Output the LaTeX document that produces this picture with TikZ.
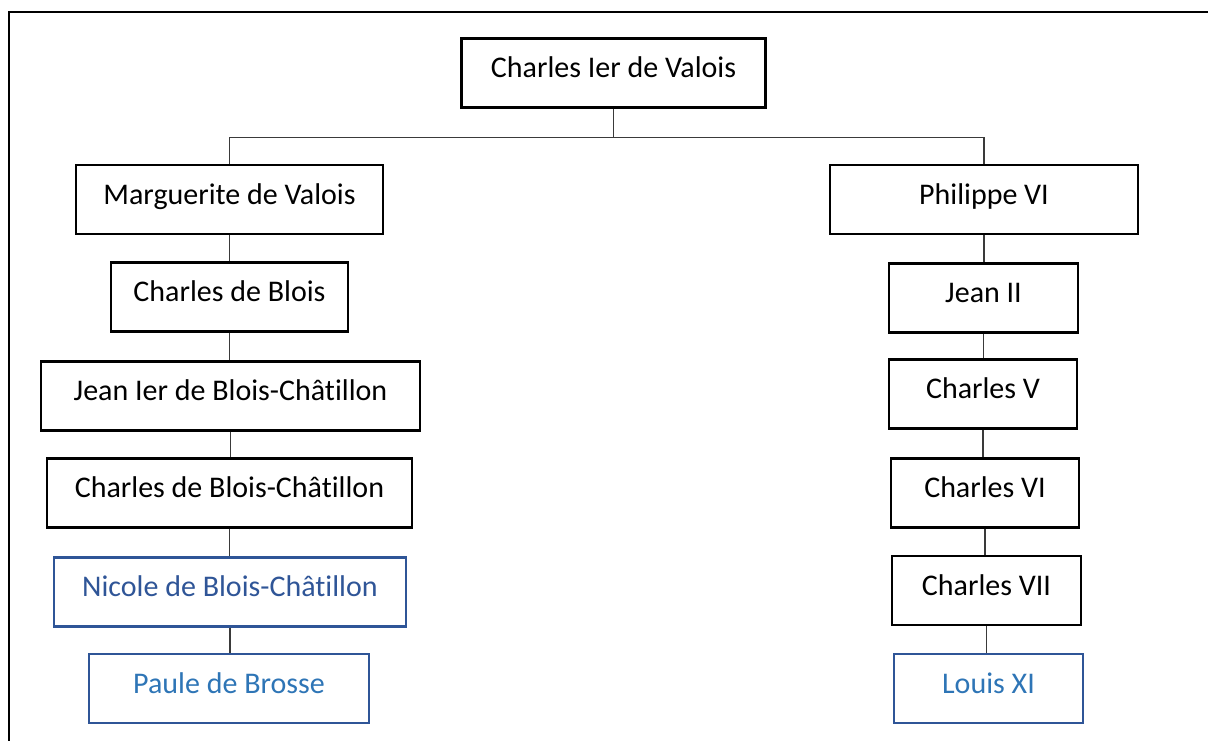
\documentclass[tikz,border=0pt]{standalone}
\usepackage{fontspec}
\setmainfont[RawFeature=-liga]{Carlito}
\usetikzlibrary{positioning}
\definecolor{blaud}{HTML}{2F5597}
\definecolor{blauh}{HTML}{2E75B6}
\definecolor{linie}{HTML}{3A3A3A}
\tikzset{
  person/.style={draw=black,line width=1.8pt,minimum height=69*0.75pt,inner sep=0pt,
    text height=14pt,text depth=7pt,font=\fontsize{22.5}{26}\selectfont},
  personb/.style={person,draw=blaud,line width=1.6pt},
  verb/.style={linie,line width=0.8pt},
  rahmen/.style={black,line width=1.6pt},
}
\begin{document}
\begin{tikzpicture}[x=0.75pt,y=-0.75pt]
  \useasboundingbox (0,0) rectangle (1208,740);
  % ===== Rahmen (rechts und unten abgeschnitten) =====
  \draw[rahmen] (9,760) -- (9,12) -- (1230,12);
  % ===== Stammvater =====
  \node[person,minimum width=304*0.75pt] (charles1) at (613.5,73) {Charles Ier de Valois};
  % ===== linke Linie: Blois =====
  \foreach \n/\x/\y/\w/\t in {marguerite/229.5/199.5/307/{Marguerite de Valois},
      charlesb/229.5/297/237/{Charles de Blois},
      jean1/230.5/396/379/{Jean Ier de Blois-Châtillon},
      charlesbc/229.5/493/365/{Charles de Blois-Châtillon}}{
    \node[person,minimum width=\w*0.75pt] (\n) at (\x,\y) {\t};}
  \node[personb,text=blaud,minimum width=352*0.75pt] (nicole) at (230,592) {Nicole de Blois-Châtillon};
  \node[personb,text=blauh,minimum width=280*0.75pt] (paule) at (229,688.5) {Paule de Brosse};
  % ===== rechte Linie: Könige =====
  \foreach \n/\x/\y/\w/\t in {philippe6/984/199.5/308/{Philippe VI},
      jean2/983.5/298/189/{Jean II},
      charles5/983/394/188/{Charles V},
      charles6/985/493/188/{Charles VI},
      charles7/986.5/590.5/189/{Charles VII}}{
    \node[person,minimum width=\w*0.75pt] (\n) at (\x,\y) {\t};}
  \node[personb,text=blauh,minimum width=189*0.75pt] (louis11) at (988.5,688.5) {Louis XI};
  % ===== Verbindungen =====
  \coordinate (gabel) at (613.5,137.5);
  \draw[verb] (charles1.south) -- (gabel);
  \draw[verb] (gabel) -| (marguerite.north);
  \draw[verb] (gabel) -| (philippe6.north);
  \foreach \a/\b in {marguerite/charlesb, charlesb/jean1, jean1/charlesbc, charlesbc/nicole, nicole/paule,
      philippe6/jean2, jean2/charles5, charles5/charles6, charles6/charles7, charles7/louis11}{
    \draw[verb] (\a.south) -- (\a.south |- \b.north);}
\end{tikzpicture}
\end{document}
